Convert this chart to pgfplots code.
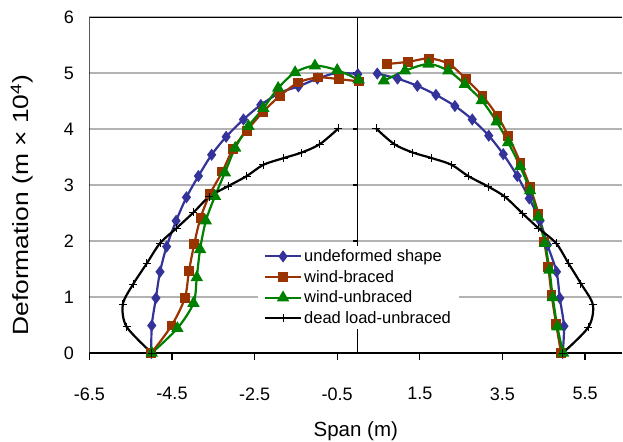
\documentclass[border=0pt]{standalone}
\usepackage{fontspec}
\setmainfont{Liberation Sans}
\usepackage{pgfplots}
\pgfplotsset{compat=1.18}
\definecolor{cblue}{RGB}{51,51,153}
\definecolor{cred}{RGB}{153,51,0}
\definecolor{cgreen}{RGB}{0,128,0}
\definecolor{cgrid}{RGB}{179,179,179}
\begin{document}
\begin{tikzpicture}
\begin{axis}[
  scale only axis, width=532.8bp, height=336bp,
  xmin=-6.5, xmax=6.4, ymin=0, ymax=6,
  axis line style={draw=none},
  xtick={-6.5,-4.5,-2.5,-0.5,1.5,3.5,5.5},
  xticklabels={-6.5,-4.5,-2.5,-0.5,1.5,3.5,5.5},
  ytick={0,1,2,3,4,5,6},
  yticklabels={0,1,2,3,4,5,6},
  xtick pos=left, xtick align=outside, major tick length=7bp,
  xtick style={black, line width=1.2bp},
  ytick style={draw=none},
  ymajorgrids, grid style={cgrid, line width=1.3bp},
  tick label style={font=\fontsize{18bp}{21bp}\selectfont},
  yticklabel style={xshift=-12bp},
  xticklabel style={yshift=-24bp},
  xlabel={Span (m)},
  ylabel={\scalebox{1.2}[1]{Deformation (m × 10\textsuperscript{4})}},
  every axis x label/.style={at={(axis description cs:0.5,-0.232)}, anchor=center, font=\fontsize{20.5bp}{24bp}\selectfont},
  every axis y label/.style={at={(axis description cs:-0.1265,0.44)}, anchor=center, rotate=90, font=\fontsize{22bp}{26bp}\selectfont},
  legend style={at={(rel axis cs:0.316,0.32)}, anchor=north west, draw=none, fill=white,
    font=\fontsize{16.5bp}{19bp}\selectfont, inner xsep=6bp, inner ysep=2bp, row sep=3.2bp},
  legend cell align=left,
  legend image code/.code={\draw[mark repeat=2,mark phase=2,#1] plot coordinates {(0bp,0bp) (18bp,0bp) (36bp,0bp)};},
  every axis plot/.append style={line width=2.2bp, smooth},
]
\draw[line width=1.3bp] (rel axis cs:0,0) -- (rel axis cs:0,1) -- (rel axis cs:1,1);
\draw[line width=1.3bp] (rel axis cs:0,0) -- (rel axis cs:1,0);
\draw[line width=1.2bp] (axis cs:0,0) -- (axis cs:0,6);
\pgfplotsinvokeforeach{0,1,2,3,4,5,6}{\draw[line width=1.2bp] (axis cs:0,#1) -- ([xshift=-5bp]axis cs:0,#1);}

% undeformed shape
\addplot[cblue, mark=diamond*, mark size=4.3bp, mark options={solid, fill=cblue}] coordinates {
(-5.00,0.00) (-4.99,0.49) (-4.89,0.98) (-4.79,1.45) (-4.63,1.90) (-4.40,2.36) (-4.15,2.78) (-3.86,3.16) (-3.54,3.54) (-3.19,3.86) (-2.77,4.17) (-2.35,4.43) (-1.88,4.65) (-1.44,4.76) (-0.98,4.90) (-0.51,5.00) (0.00,4.98)};
\addlegendentry{undeformed shape}
% wind-braced
\addplot[cred, mark=square*, mark size=3.8bp, mark options={solid, fill=cred}] coordinates {
(-5.00,0.00) (-4.51,0.49) (-4.19,0.98) (-4.09,1.46) (-3.96,1.95) (-3.81,2.41) (-3.58,2.84) (-3.28,3.24) (-3.02,3.65) (-2.69,3.97) (-2.29,4.31) (-1.89,4.59) (-1.44,4.83) (-0.96,4.92) (-0.45,4.89) (0.02,4.85)};
\addlegendentry{wind-braced}
% wind-unbraced
\addplot[cgreen, mark=triangle*, mark size=5bp, mark options={solid, fill=cgreen}] coordinates {
(-4.99,0.00) (-4.37,0.44) (-3.98,0.89) (-3.90,1.35) (-3.82,1.85) (-3.68,2.36) (-3.46,2.80) (-3.22,3.22) (-2.97,3.66) (-2.65,4.05) (-2.29,4.37) (-1.93,4.73) (-1.52,5.01) (-1.04,5.13) (-0.50,5.05) (0.02,4.88)};
\addlegendentry{wind-unbraced}
% dead load-unbraced
\addplot[black, mark=+, mark size=4bp, mark options={solid, line width=1bp}] coordinates {
(-4.99,0.00) (-5.60,0.47) (-5.69,0.87) (-5.44,1.23) (-5.11,1.60) (-4.79,1.96) (-4.39,2.23) (-3.98,2.51) (-3.60,2.79) (-3.14,2.98) (-2.69,3.16) (-2.29,3.36) (-1.80,3.48) (-1.36,3.58) (-0.92,3.73) (-0.47,4.01)};
\addlegendentry{dead load-unbraced}

% right branches
\addplot[forget plot, cblue, mark=diamond*, mark size=4.3bp, mark options={solid, fill=cblue}] coordinates {
(0.47,4.99) (0.96,4.90) (1.44,4.77) (1.89,4.61) (2.35,4.41) (2.77,4.17) (3.17,3.88) (3.52,3.55) (3.86,3.16) (4.15,2.76) (4.41,2.36) (4.59,1.93) (4.81,1.45) (4.89,0.98) (4.99,0.48) (4.96,0.00)};
\addplot[forget plot, cred, mark=square*, mark size=3.8bp, mark options={solid, fill=cred}] coordinates {
(0.70,5.16) (1.22,5.20) (1.73,5.26) (2.21,5.16) (2.62,4.89) (3.02,4.59) (3.38,4.23) (3.64,3.88) (3.94,3.39) (4.17,2.96) (4.37,2.49) (4.51,1.99) (4.61,1.53) (4.69,1.04) (4.80,0.52) (4.92,0.00)};
\addplot[forget plot, cgreen, mark=triangle*, mark size=5bp, mark options={solid, fill=cgreen}] coordinates {
(0.63,4.86) (1.14,5.04) (1.71,5.16) (2.19,5.04) (2.59,4.80) (3.00,4.51) (3.36,4.13) (3.64,3.76) (3.93,3.33) (4.17,2.90) (4.37,2.43) (4.53,1.96) (4.64,1.48) (4.72,0.99) (4.83,0.47) (4.97,0.00)};
\addplot[forget plot, black, mark=+, mark size=4bp, mark options={solid, line width=1bp}] coordinates {
(0.44,4.01) (0.88,3.73) (1.33,3.58) (1.79,3.48) (2.27,3.36) (2.67,3.16) (3.16,2.97) (3.56,2.79) (3.99,2.49) (4.37,2.23) (4.80,1.96) (5.10,1.60) (5.40,1.24) (5.69,0.86) (5.58,0.46) (4.96,0.00)};
\end{axis}
\pgfresetboundingbox
\path (-89.4bp,-89bp) rectangle (533.6bp,353bp);
\end{tikzpicture}
\end{document}
